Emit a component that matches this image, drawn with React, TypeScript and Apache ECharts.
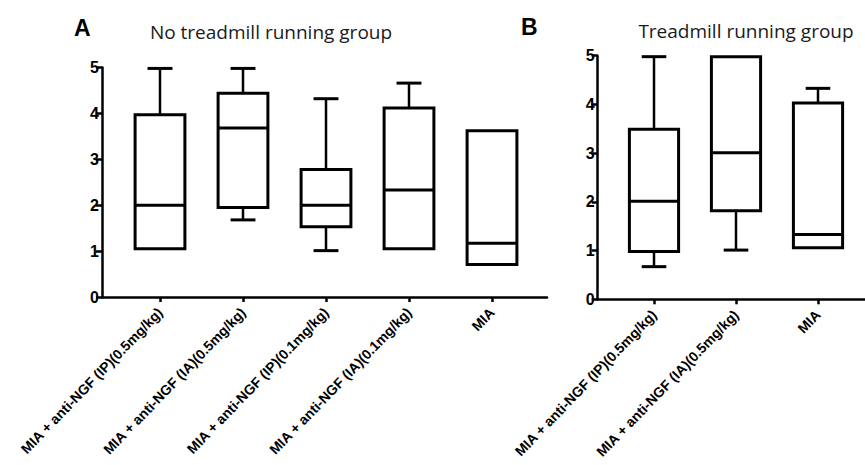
import React, { useEffect, useRef } from "react";
import * as echarts from "echarts";

// Panel A: No treadmill running group
const groupsA = [
  "MIA + anti-NGF (IP)(0.5mg/kg)",
  "MIA + anti-NGF (IA)(0.5mg/kg)",
  "MIA + anti-NGF (IP)(0.1mg/kg)",
  "MIA + anti-NGF (IA)(0.1mg/kg)",
  "MIA",
];
const minA = [1.05, 1.68, 1.01, 1.05, 0.71];
const q1A = [1.05, 1.95, 1.53, 1.05, 0.71];
const medA = [2.0, 3.68, 2.0, 2.33, 1.17];
const q3A = [3.97, 4.44, 2.78, 4.12, 3.62];
const maxA = [4.98, 4.98, 4.32, 4.66, 3.62];

// Panel B: Treadmill running group
const groupsB = [
  "MIA + anti-NGF (IP)(0.5mg/kg)",
  "MIA + anti-NGF (IA)(0.5mg/kg)",
  "MIA",
];
const minB = [0.67, 1.01, 1.06];
const q1B = [0.98, 1.82, 1.06];
const medB = [2.01, 3.01, 1.33];
const q3B = [3.49, 4.98, 4.03];
const maxB = [4.98, 4.98, 4.33];

const yTicks = [0, 1, 2, 3, 4, 5];

const FONT = "'Liberation Sans', Arial, sans-serif";

function boxData(mins: number[], q1: number[], med: number[], q3: number[], max: number[]) {
  return mins.map((m, i) => [i, m, q1[i], med[i], q3[i], max[i]]);
}

const renderBox = (params: any, api: any) => {
  const idx = api.value(0);
  const vMin = api.value(1);
  const vQ1 = api.value(2);
  const vMed = api.value(3);
  const vQ3 = api.value(4);
  const vMax = api.value(5);
  const x = api.coord([idx, 0])[0];
  const band = api.size([1, 0])[0];
  const w = band * 0.6;
  const cw = w * 0.5;
  const yMin = api.coord([idx, vMin])[1];
  const yQ1 = api.coord([idx, vQ1])[1];
  const yMed = api.coord([idx, vMed])[1];
  const yQ3 = api.coord([idx, vQ3])[1];
  const yMax = api.coord([idx, vMax])[1];
  const ls = { stroke: "#000", lineWidth: 2.5 };
  const children: any[] = [];
  if (vMax > vQ3) {
    children.push({ type: "line", shape: { x1: x, y1: yQ3, x2: x, y2: yMax }, style: ls });
    children.push({ type: "line", shape: { x1: x - cw / 2, y1: yMax, x2: x + cw / 2, y2: yMax }, style: { stroke: "#000", lineWidth: 3 } });
  }
  if (vMin < vQ1) {
    children.push({ type: "line", shape: { x1: x, y1: yQ1, x2: x, y2: yMin }, style: ls });
    children.push({ type: "line", shape: { x1: x - cw / 2, y1: yMin, x2: x + cw / 2, y2: yMin }, style: { stroke: "#000", lineWidth: 3 } });
  }
  children.push({
    type: "rect",
    shape: { x: x - w / 2, y: yQ3, width: w, height: yQ1 - yQ3 },
    style: { fill: "#fff", stroke: "#000", lineWidth: 3 },
  });
  children.push({ type: "line", shape: { x1: x - w / 2, y1: yMed, x2: x + w / 2, y2: yMed }, style: { stroke: "#000", lineWidth: 3 } });
  return { type: "group", children };
};

export default function App() {
  const ref = useRef<HTMLDivElement>(null);
  useEffect(() => {
    if (!ref.current) return;
    const chart = echarts.init(ref.current, null, { renderer: "svg" });

    const frameX = (gi: number) => ({
      type: "value",
      gridIndex: gi,
      min: 0,
      max: 1,
      axisLine: { show: true, lineStyle: { color: "#000", width: 2.5 } },
      axisTick: { show: false },
      axisLabel: { show: false },
      splitLine: { show: false },
    });
    const frameY = (gi: number) => ({
      type: "value",
      gridIndex: gi,
      min: yTicks[0],
      max: yTicks[yTicks.length - 1],
      interval: 1,
      axisLine: { show: true, lineStyle: { color: "#000", width: 2.5 } },
      axisTick: { show: true, length: 6, lineStyle: { color: "#000", width: 2.5 } },
      axisLabel: { color: "#000", fontSize: 16, fontWeight: "bold", fontFamily: FONT, margin: 3 },
      splitLine: { show: false },
    });
    const boxX = (gi: number, cats: string[]) => ({
      type: "category",
      gridIndex: gi,
      data: cats,
      boundaryGap: true,
      axisLine: { show: false },
      axisTick: { show: true, alignWithLabel: true, length: 5, lineStyle: { color: "#000", width: 2.5 } },
      axisLabel: {
        interval: 0,
        rotate: 46,
        color: "#000",
        fontSize: 14,
        fontWeight: "bold",
        fontFamily: FONT,
        margin: 13,
      },
      splitLine: { show: false },
    });
    const boxY = (gi: number) => ({
      type: "value",
      gridIndex: gi,
      min: yTicks[0],
      max: yTicks[yTicks.length - 1],
      show: false,
      splitLine: { show: false },
    });

    chart.setOption({
      animation: false,
      backgroundColor: "#fff",
      grid: [
        { left: 102, top: 67.5, width: 445, height: 229.5, outerBoundsMode: "none", containLabel: false },
        { left: 118.5, top: 67.5, width: 415, height: 229.5, outerBoundsMode: "none", containLabel: false },
        { left: 597.7, top: 55.7, width: 270, height: 243.6, outerBoundsMode: "none", containLabel: false },
        { left: 613, top: 55.7, width: 246, height: 243.6, outerBoundsMode: "none", containLabel: false },
      ],
      xAxis: [frameX(0), boxX(1, groupsA), frameX(2), boxX(3, groupsB)],
      yAxis: [frameY(0), boxY(1), frameY(2), boxY(3)],
      graphic: [
        { type: "text", left: 74, top: 16, style: { text: "A", font: `bold 23px ${FONT}`, fill: "#000" } },
        { type: "text", left: 521, top: 15, style: { text: "B", font: `bold 23px ${FONT}`, fill: "#000" } },
        {
          type: "text",
          x: 271,
          y: 32,
          style: { text: "No treadmill running group", font: "19px 'Open Sans', sans-serif", fill: "#1a1a1a", textAlign: "center", textVerticalAlign: "middle" },
        },
        {
          type: "text",
          x: 746,
          y: 31,
          style: { text: "Treadmill running group", font: "19px 'Open Sans', sans-serif", fill: "#1a1a1a", textAlign: "center", textVerticalAlign: "middle" },
        },
      ],
      series: [
        {
          type: "custom",
          xAxisIndex: 1,
          yAxisIndex: 1,
          renderItem: renderBox,
          encode: { x: 0, y: [1, 2, 3, 4, 5] },
          data: boxData(minA, q1A, medA, q3A, maxA),
          clip: false,
          silent: true,
        },
        {
          type: "custom",
          xAxisIndex: 3,
          yAxisIndex: 3,
          renderItem: renderBox,
          encode: { x: 0, y: [1, 2, 3, 4, 5] },
          data: boxData(minB, q1B, medB, q3B, maxB),
          clip: false,
          silent: true,
        },
      ],
    });
    return () => chart.dispose();
  }, []);
  return (
    <div
      ref={ref}
      style={{ position: "fixed", left: 0, top: 0, width: 865, height: 465, background: "#fff" }}
    />
  );
}
